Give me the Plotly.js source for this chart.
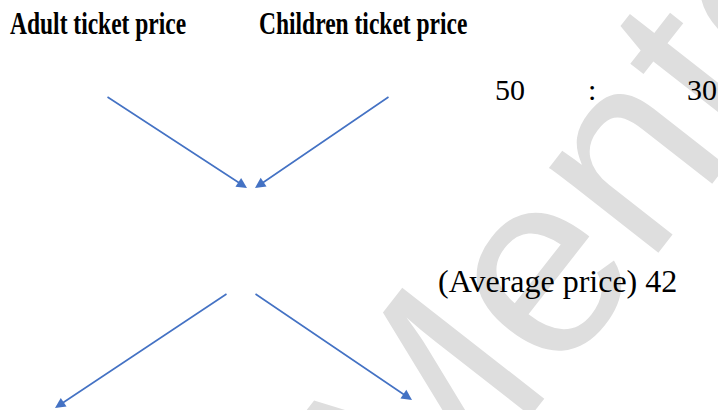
<!DOCTYPE html>
<html>
<head>
<meta charset="utf-8">
<script src="https://cdn.plot.ly/plotly-3.0.1.min.js"></script>
<style>
html,body{margin:0;padding:0;background:#fff;}
#chart{width:718px;height:410px;}
</style>
</head>
<body>
<div id="chart"></div>
<script>
// ---- data ----
const headers = ["Adult ticket price", "Children ticket price"];
const ratioValues = [50, 30];
const ratioSeparator = ":";
const averageLabel = "(Average price)";
const averageValue = 42;
const watermarkText = "Mentor";

// ---- layout helpers (positions in a 718 x 410 canvas coordinate system) ----
const headerPos = [[8, 22.5], [257, 22.5]];
const ratioPos = [[493, 89], [685, 89]];
const sepPos = [592, 89];
const averagePos = [436, 281];
// arrows: [tailX, tailY, tipX, tipY]
const arrowPaths = [
  [106, 96, 247, 188],
  [390, 96, 255, 188],
  [228, 293, 55, 408],
  [254, 293, 412, 400]
];

const blue = '#4472C4';
const serif = 'Liberation Serif, Times New Roman, serif';

const annotations = [];
// watermark
annotations.push({
  xref: 'x', yref: 'y', x: 602, y: 177, text: watermarkText, showarrow: false,
  textangle: -52, font: {family: 'Liberation Sans, Arial, sans-serif', size: 262, color: '#dedede'},
  xanchor: 'center', yanchor: 'middle'
});
headers.forEach((h, i) => annotations.push({
  xref: 'x', yref: 'y', x: headerPos[i][0], y: headerPos[i][1], text: '<b>' + h + '</b>',
  showarrow: false, xanchor: 'left', yanchor: 'middle',
  font: {family: serif, size: 23.5, color: '#000'}
}));
ratioValues.forEach((v, i) => annotations.push({
  xref: 'x', yref: 'y', x: ratioPos[i][0], y: ratioPos[i][1], text: String(v),
  showarrow: false, xanchor: 'left', yanchor: 'middle',
  font: {family: serif, size: 30, color: '#000'}
}));
annotations.push({
  xref: 'x', yref: 'y', x: sepPos[0], y: sepPos[1], text: ratioSeparator,
  showarrow: false, xanchor: 'center', yanchor: 'middle',
  font: {family: serif, size: 30, color: '#000'}
});
annotations.push({
  xref: 'x', yref: 'y', x: averagePos[0], y: averagePos[1], text: averageLabel + ' ' + averageValue,
  showarrow: false, xanchor: 'left', yanchor: 'middle',
  font: {family: serif, size: 32, color: '#000'}
});
arrowPaths.forEach(a => annotations.push({
  xref: 'x', yref: 'y', axref: 'x', ayref: 'y',
  x: a[2], y: a[3], ax: a[0], ay: a[1], text: '', showarrow: true,
  arrowhead: 2, arrowsize: 1.3, arrowwidth: 1.6, arrowcolor: blue, standoff: 0
}));

const layout = {
  width: 718, height: 410,
  margin: {l: 0, r: 0, t: 0, b: 0},
  paper_bgcolor: '#fff', plot_bgcolor: '#fff',
  xaxis: {range: [0, 718], visible: false, fixedrange: true},
  yaxis: {range: [410, 0], visible: false, fixedrange: true},
  showlegend: false,
  annotations: annotations
};

Plotly.newPlot('chart', [{x: [], y: [], type: 'scatter', hoverinfo: 'skip'}], layout, {staticPlot: true, displayModeBar: false})
  .then(gd => {
    // the reference's bold headers are rendered tall and narrow: stretch them vertically
    [1, 2].forEach(idx => {
      const t = gd.querySelector('g.annotation[data-index="' + idx + '"] text.annotation-text');
      if (t) {
        t.style.transformBox = 'fill-box';
        t.style.transformOrigin = '50% 50%';
        t.style.transform = 'scaleY(1.35)';
      }
    });
  });
</script>
</body>
</html>
